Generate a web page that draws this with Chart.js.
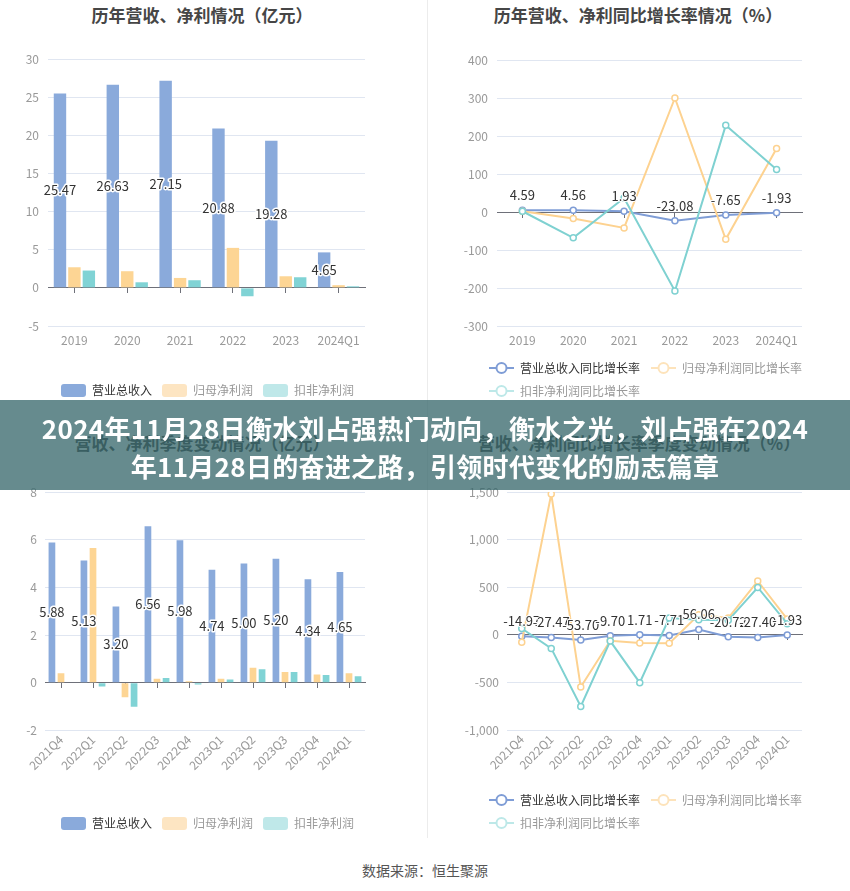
<!DOCTYPE html>
<html>
<head>
<meta charset="utf-8">
<script src="https://cdn.jsdelivr.net/npm/chart.js@4.4.1/dist/chart.umd.min.js"></script>
<style>
  body { margin: 0; background: #fff; width: 850px; height: 891px; position: relative; overflow: hidden; font-family: 'Noto Sans CJK SC', 'Noto Sans', sans-serif; }
  canvas { position: absolute; }
  .title { position: absolute; text-align: center; font-weight: bold; font-size: 17px; line-height: 22px; color: #464646; }
  #divider { position: absolute; left: 427px; top: 0; width: 1px; height: 838px; background: #ececec; }
  #banner { position: absolute; left: 0; top: 400px; width: 850px; height: 90px; background: rgba(54, 102, 106, 0.76); color: #fff; font-weight: bold; font-size: 26px; letter-spacing: 0.3px; line-height: 38px; text-align: center; padding-top: 9px; box-sizing: border-box; z-index: 5; }
  #source { position: absolute; left: 362px; top: 860px; font-size: 14px; color: #555; }
</style>
</head>
<body>
<div id="divider"></div>
<div class="title" style="left:0;top:4px;width:404px;">历年营收、净利情况（亿元）</div>
<div class="title" style="left:425px;top:4px;width:426px;">历年营收、净利同比增长率情况（%）</div>
<div class="title" style="left:0;top:432px;width:404px;">营收、净利季度变动情况（亿元）</div>
<div class="title" style="left:425px;top:432px;width:428px;">营收、净利同比增长率季度变动情况（%）</div>

<canvas id="annualBar" width="425" height="407" style="left:0;top:0;"></canvas>
<canvas id="annualLine" width="425" height="407" style="left:425px;top:0;"></canvas>
<canvas id="quarterBar" width="425" height="400" style="left:0;top:440px;"></canvas>
<canvas id="quarterLine" width="425" height="399" style="left:425px;top:440px;"></canvas>

<div id="banner">2024年11月28日衡水刘占强热门动向，衡水之光，刘占强在2024<br>年11月28日的奋进之路，引领时代变化的励志篇章</div>
<div id="source">数据来源：恒生聚源</div>

<script>
// Data
const years = ['2019', '2020', '2021', '2022', '2023', '2024Q1'];
const annualRevenue = [25.47, 26.63, 27.15, 20.88, 19.28, 4.65];
const annualNetProfit = [2.70, 2.18, 1.30, 5.24, 1.52, 0.35];
const annualDeducted = [2.27, 0.73, 1.00, -1.10, 1.39, 0.20];

const annualRevenueGrowth = [4.59, 4.56, 1.93, -23.08, -7.65, -1.93];
const annualNetProfitGrowth = [2, -17, -42, 300, -72, 167];
const annualDeductedGrowth = [2, -68, 37, -208, 228, 112];

const quarters = ['2021Q4', '2022Q1', '2022Q2', '2022Q3', '2022Q4', '2023Q1', '2023Q2', '2023Q3', '2023Q4', '2024Q1'];
const quarterRevenue = [5.88, 5.13, 3.20, 6.56, 5.98, 4.74, 5.00, 5.20, 4.34, 4.65];
const quarterNetProfit = [0.40, 5.65, -0.61, 0.17, 0.07, 0.17, 0.63, 0.45, 0.35, 0.40];
const quarterDeducted = [0, -0.15, -1.00, 0.20, -0.07, 0.14, 0.57, 0.45, 0.33, 0.27];

const quarterRevenueGrowth = [-14.97, -27.47, -53.70, -9.70, 1.71, -7.71, 56.06, -20.72, -27.40, -1.93];
const quarterNetProfitGrowth = [-77, 1479, -549, -63, -87, -90, 210, 176, 565, 165];
const quarterDeductedGrowth = [66, -143, -752, -66, -503, 176, 159, 152, 497, 117];

const barNames = ['营业总收入', '归母净利润', '扣非净利润'];
const lineNames = ['营业总收入同比增长率', '归母净利润同比增长率', '扣非净利润同比增长率'];

const barColors = ['#8aaadb', '#fdd594', '#80d3d5'];
const lineColors = ['#7f9dd6', '#fdd290', '#7fd1d1'];
const legendFills = ['#8aaadb', '#fde5c2', '#bfe8e9'];
const legendLines = ['#7f9dd6', '#fde3bb', '#bde8e8'];
const legendText = ['#333', '#999', '#999'];

const FONT = "'Noto Sans CJK SC', 'Noto Sans', sans-serif";
Chart.defaults.font.family = FONT;
Chart.defaults.font.size = 12;
Chart.defaults.color = '#999';

// Labels for the first series: middle of bar, or above the point
const valueLabels = {
  id: 'valueLabels',
  afterDatasetsDraw(chart) {
    const ctx = chart.ctx;
    const meta = chart.getDatasetMeta(0);
    const isBar = meta.type === 'bar';
    ctx.save();
    ctx.font = '13px ' + FONT;
    ctx.textAlign = 'center';
    ctx.textBaseline = 'middle';
    ctx.lineJoin = 'round';
    meta.data.forEach((el, i) => {
      const txt = chart.data.datasets[0].data[i].toFixed(2);
      const y = isBar ? (el.y + el.base) / 2 : el.y - 15;
      ctx.lineWidth = isBar ? 3 : 2;
      ctx.strokeStyle = '#fff';
      ctx.strokeText(txt, el.x, y);
      ctx.fillStyle = '#333';
      ctx.fillText(txt, el.x, y);
    });
    ctx.restore();
  }
};

// Line-chart legends start further right than the y axis box
const legendShift = {
  id: 'legendShift',
  afterLayout(chart, args, opts) {
    if (opts && opts.left != null) {
      chart.legend.left = opts.left;
    }
  }
};

function lineIcon(color) {
  const c = document.createElement('canvas');
  c.width = 25;
  c.height = 14;
  const g = c.getContext('2d');
  g.strokeStyle = color;
  g.lineWidth = 2;
  g.beginPath(); g.moveTo(0, 7); g.lineTo(25, 7); g.stroke();
  g.beginPath(); g.arc(12.5, 7, 5, 0, Math.PI * 2);
  g.fillStyle = '#fff'; g.fill(); g.stroke();
  return c;
}

function buildScales(opt) {
  return {
    x: {
      type: 'category',
      offset: true,
      grid: { display: false, drawTicks: false },
      border: { display: false },
      ticks: { color: '#999', padding: opt.labelPad, autoSkip: false, minRotation: opt.rotate, maxRotation: opt.rotate },
      afterFit: s => { s.height = opt.xHeight; }
    },
    x0: {
      type: 'category',
      axis: 'x',
      position: { y: 0 },
      offset: true,
      grid: { offset: false, drawOnChartArea: false, drawTicks: true, tickLength: 5, color: '#6e7079' },
      border: { display: true, color: '#6e7079' },
      ticks: { display: false }
    },
    y: {
      min: opt.min,
      max: opt.max,
      ticks: { stepSize: opt.step, color: '#999', padding: opt.yPad },
      grid: { drawTicks: false, color: c => c.tick.value === 0 ? 'rgba(0,0,0,0)' : '#e0e6f1' },
      border: { display: false },
      afterFit: s => { s.width = opt.yWidth; }
    },
    yR: {
      axis: 'y',
      position: 'right',
      grid: { display: false },
      border: { display: false },
      ticks: { display: false },
      afterFit: s => { s.width = opt.rightWidth; }
    }
  };
}

function createBarChart(id, labels, series, opt) {
  const datasets = series.map((d, i) => ({
    label: barNames[i],
    data: d,
    backgroundColor: barColors[i],
    xAxisID: 'x',
    yAxisID: 'y',
    categoryPercentage: opt.catPct,
    barPercentage: opt.barPct
  }));
  new Chart(document.getElementById(id), {
    type: 'bar',
    data: { labels: labels, datasets: datasets },
    options: {
      responsive: false,
      animation: false,
      devicePixelRatio: 1,
      layout: { padding: { top: opt.top, left: 0, right: 10, bottom: 0 } },
      scales: buildScales(opt),
      plugins: {
        tooltip: { enabled: false },
        legend: {
          position: 'bottom',
          onClick: null,
          labels: {
            boxWidth: 25,
            boxHeight: 13,
            padding: 10,
            useBorderRadius: true,
            borderRadius: 3,
            font: { size: 12 },
            generateLabels: () => barNames.map((t, i) => ({
              text: t,
              fillStyle: legendFills[i],
              strokeStyle: legendFills[i],
              lineWidth: 0,
              fontColor: legendText[i],
              hidden: false,
              datasetIndex: i,
              borderRadius: 3
            }))
          }
        }
      }
    },
    plugins: [valueLabels]
  });
}

function createLineChart(id, labels, series, opt) {
  const datasets = series.map((d, i) => ({
    label: lineNames[i],
    data: d,
    borderColor: lineColors[i],
    backgroundColor: '#fff',
    pointBackgroundColor: '#fff',
    pointBorderColor: lineColors[i],
    pointRadius: 3,
    pointBorderWidth: 1.5,
    borderWidth: 2,
    tension: 0,
    order: 2 - i,
    xAxisID: 'x',
    yAxisID: 'y'
  }));
  new Chart(document.getElementById(id), {
    type: 'line',
    data: { labels: labels, datasets: datasets },
    options: {
      responsive: false,
      animation: false,
      devicePixelRatio: 1,
      layout: { padding: { top: opt.top, left: 0, right: 0, bottom: 0 } },
      scales: buildScales(opt),
      plugins: {
        tooltip: { enabled: false },
        legendShift: { left: 53 },
        legend: {
          position: 'bottom',
          align: 'start',
          onClick: null,
          labels: {
            usePointStyle: true,
            pointStyleWidth: 25,
            boxHeight: 13,
            padding: 11,
            font: { size: 12 },
            generateLabels: () => lineNames.map((t, i) => ({
              text: t,
              pointStyle: lineIcon(legendLines[i]),
              fillStyle: '#fff',
              strokeStyle: legendLines[i],
              lineWidth: 0,
              fontColor: legendText[i],
              hidden: false,
              datasetIndex: i
            }))
          }
        }
      }
    },
    plugins: [valueLabels, legendShift]
  });
}

createBarChart('annualBar', years, [annualRevenue, annualNetProfit, annualDeducted], {
  top: 59, xHeight: 48, yWidth: 48, rightWidth: 50, yPad: 9, labelPad: 7, rotate: 0,
  min: -5, max: 30, step: 5, catPct: 0.82, barPct: 0.86
});

createLineChart('annualLine', years, [annualRevenueGrowth, annualNetProfitGrowth, annualDeductedGrowth], {
  top: 60, xHeight: 25, yWidth: 72, rightWidth: 48, yPad: 9, labelPad: 7, rotate: 0,
  min: -300, max: 400, step: 100
});

createBarChart('quarterBar', quarters, [quarterRevenue, quarterNetProfit, quarterDeducted], {
  top: 52, xHeight: 76.5, yWidth: 45, rightWidth: 50, yPad: 8, labelPad: 2, rotate: 45,
  min: -2, max: 8, step: 2, catPct: 0.85, barPct: 0.74
});

createLineChart('quarterLine', quarters, [quarterRevenueGrowth, quarterNetProfitGrowth, quarterDeductedGrowth], {
  top: 52, xHeight: 53, yWidth: 82, rightWidth: 48, yPad: 8, labelPad: 2, rotate: 45,
  min: -1000, max: 1500, step: 500
});
</script>
</body>
</html>
